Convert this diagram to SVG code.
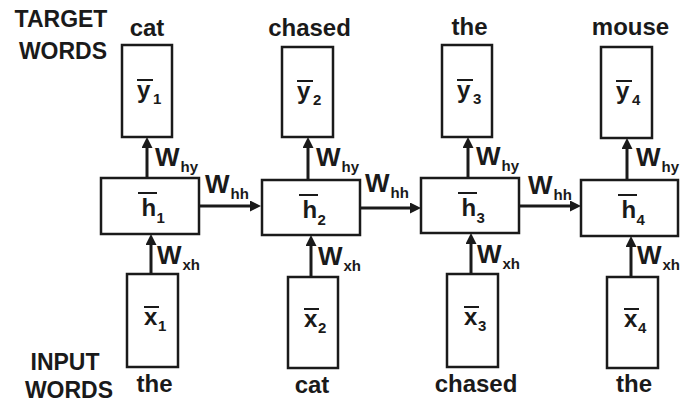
<svg xmlns="http://www.w3.org/2000/svg" width="680" height="405" viewBox="0 0 680 405">
<style>
text{font-family:"Liberation Sans",Arial,sans-serif;font-weight:bold;fill:#1a1a1a}
.box{fill:#fff;stroke:#1a1a1a;stroke-width:2.5}
.word{font-size:24px;text-anchor:middle}
.side{font-size:23px;text-anchor:middle}
.v{font-size:24px}
.sub{font-size:15px}
.W{font-size:26px}
.ws{font-size:15px}
.ov{stroke:#1a1a1a;stroke-width:2}
.arr{stroke:#1a1a1a;stroke-width:3;fill:none;marker-end:url(#ah)}
</style>
<defs>
<marker id="ah" markerUnits="userSpaceOnUse" markerWidth="12" markerHeight="12" refX="3" refY="5.5" orient="auto">
<path d="M0,0 L11,5.5 L0,11 z" fill="#1a1a1a"/>
</marker>
</defs>

<g id="labels">
<text class="side" x="61" y="27">TARGET</text>
<text class="side" x="63" y="59">WORDS</text>
<text class="side" x="65" y="370">INPUT</text>
<text class="side" x="69" y="398">WORDS</text>
</g>

<g id="connectors">
<line class="arr" x1="147" y1="178" x2="147" y2="145"/>
<line class="arr" x1="308" y1="180" x2="308" y2="145"/>
<line class="arr" x1="468" y1="178" x2="468" y2="145"/>
<line class="arr" x1="627" y1="180" x2="627" y2="146"/>
<line class="arr" x1="151" y1="274" x2="151" y2="242"/>
<line class="arr" x1="311" y1="277" x2="311" y2="243"/>
<line class="arr" x1="471" y1="274" x2="471" y2="241"/>
<line class="arr" x1="631" y1="277" x2="631" y2="244"/>
<line class="arr" x1="199" y1="206" x2="253" y2="206"/>
<line class="arr" x1="360" y1="208" x2="413" y2="208"/>
<line class="arr" x1="519" y1="206" x2="573" y2="206"/>
<text class="W" x="155" y="166">W</text><text class="ws" x="180.5" y="172">hy</text>
<text class="W" x="316" y="166">W</text><text class="ws" x="341.5" y="172">hy</text>
<text class="W" x="476" y="165">W</text><text class="ws" x="501.5" y="171">hy</text>
<text class="W" x="636" y="166">W</text><text class="ws" x="661.5" y="172">hy</text>
<text class="W" x="205" y="193">W</text><text class="ws" x="230.5" y="199">hh</text>
<text class="W" x="365" y="192">W</text><text class="ws" x="390.5" y="198">hh</text>
<text class="W" x="528" y="194">W</text><text class="ws" x="553.5" y="200">hh</text>
<text class="W" x="157" y="264">W</text><text class="ws" x="182.5" y="270">xh</text>
<text class="W" x="318" y="265">W</text><text class="ws" x="343.5" y="271">xh</text>
<text class="W" x="477" y="263">W</text><text class="ws" x="502.5" y="269">xh</text>
<text class="W" x="637" y="264">W</text><text class="ws" x="662.5" y="270">xh</text>
</g>

<g id="y1">
<text class="word" x="147" y="36">cat</text>
<rect class="box" x="122" y="45" width="50" height="92"/>
<line class="ov" x1="137" y1="80" x2="153" y2="80"/>
<text class="v" x="137" y="98">y</text><text class="sub" x="153" y="104">1</text>
</g>
<g id="y2">
<text class="word" x="309.5" y="36">chased</text>
<rect class="box" x="282" y="47" width="51" height="90"/>
<line class="ov" x1="297" y1="81" x2="313" y2="81"/>
<text class="v" x="297" y="99">y</text><text class="sub" x="313" y="105">2</text>
</g>
<g id="y3">
<text class="word" x="469.5" y="35">the</text>
<rect class="box" x="442" y="45" width="50" height="92"/>
<line class="ov" x1="457" y1="80" x2="473" y2="80"/>
<text class="v" x="457" y="98">y</text><text class="sub" x="473" y="104">3</text>
</g>
<g id="y4">
<text class="word" x="630.5" y="35">mouse</text>
<rect class="box" x="601" y="47" width="51" height="91"/>
<line class="ov" x1="616" y1="81" x2="632" y2="81"/>
<text class="v" x="616" y="99">y</text><text class="sub" x="632" y="105">4</text>
</g>

<g id="h1">
<rect class="box" x="101" y="178" width="98" height="56"/>
<line class="ov" x1="138" y1="193" x2="157" y2="193"/>
<text class="v" x="141.5" y="216">h</text><text class="sub" x="156.5" y="222.5">1</text>
</g>
<g id="h2">
<rect class="box" x="262" y="180" width="98" height="55"/>
<line class="ov" x1="299" y1="195" x2="318" y2="195"/>
<text class="v" x="302.5" y="218">h</text><text class="sub" x="317.5" y="224.5">2</text>
</g>
<g id="h3">
<rect class="box" x="421" y="178" width="98" height="55"/>
<line class="ov" x1="458" y1="193" x2="477" y2="193"/>
<text class="v" x="461.5" y="216">h</text><text class="sub" x="476.5" y="222.5">3</text>
</g>
<g id="h4">
<rect class="box" x="581" y="180" width="97" height="56"/>
<line class="ov" x1="618" y1="195" x2="637" y2="195"/>
<text class="v" x="621.5" y="218">h</text><text class="sub" x="636.5" y="224.5">4</text>
</g>

<g id="x1">
<rect class="box" x="127" y="274" width="51" height="93"/>
<line class="ov" x1="144" y1="307" x2="159" y2="307"/>
<text class="v" x="144" y="325">x</text><text class="sub" x="158" y="331">1</text>
<text class="word" x="154.5" y="392">the</text>
</g>
<g id="x2">
<rect class="box" x="288" y="277" width="50" height="91"/>
<line class="ov" x1="304" y1="309" x2="319" y2="309"/>
<text class="v" x="304" y="327">x</text><text class="sub" x="318" y="333">2</text>
<text class="word" x="312" y="393">cat</text>
</g>
<g id="x3">
<rect class="box" x="447" y="274" width="51" height="93"/>
<line class="ov" x1="464" y1="307" x2="479" y2="307"/>
<text class="v" x="464" y="325">x</text><text class="sub" x="478" y="331">3</text>
<text class="word" x="476" y="392">chased</text>
</g>
<g id="x4">
<rect class="box" x="607" y="277" width="51" height="91"/>
<line class="ov" x1="624" y1="309" x2="639" y2="309"/>
<text class="v" x="624" y="327">x</text><text class="sub" x="638" y="333">4</text>
<text class="word" x="634" y="392">the</text>
</g>
</svg>
